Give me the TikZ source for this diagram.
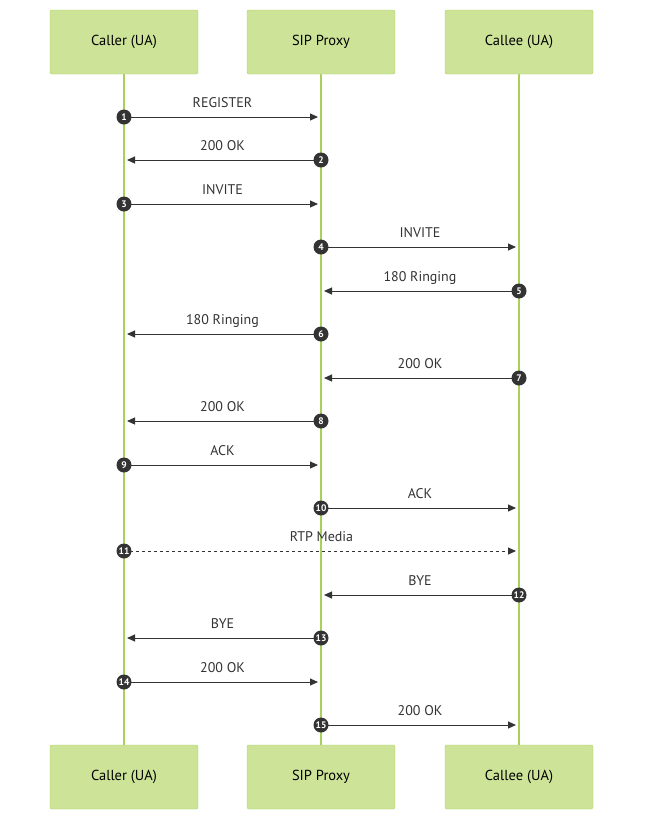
\documentclass[tikz,border=0pt]{standalone}
\usepackage{fontspec}
\setmainfont{PT Sans}
\usetikzlibrary{arrows.meta}
\definecolor{boxfill}{HTML}{CDE498}
\definecolor{boxline}{HTML}{A8D05A}
\definecolor{msg}{HTML}{333333}
\begin{document}
\begin{tikzpicture}[x=1pt,y=-1pt,
  actor/.style={draw=boxline,fill=boxfill,rounded corners=2pt,minimum width=148pt,minimum height=64pt,font=\fontsize{14.5}{16}\selectfont,text=black},
  life/.style={draw=boxline,line width=1.5pt},
  msgline/.style={draw=msg,line width=1pt,-{Triangle[length=8pt,width=7pt]}},
  lbl/.style={font=\fontsize{14}{16}\selectfont,text=msg,inner sep=1pt},
  num/.style={circle,fill=msg,text=white,inner sep=0pt,minimum size=15pt,font=\fontsize{9.5}{10}\bfseries\selectfont}]
\useasboundingbox (0,0) rectangle (650,831);
\draw[life] (124,74) -- (124,745);
\draw[life] (321,74) -- (321,745);
\draw[life] (519,74) -- (519,745);
\node[actor] (a1) at (124,42) {Caller (UA)};
\node[actor] (b1) at (321,42) {SIP Proxy};
\node[actor] (c1) at (519,42) {Callee (UA)};
\node[actor] (a2) at (124,777) {Caller (UA)};
\node[actor] (b2) at (321,777) {SIP Proxy};
\node[actor] (c2) at (519,777) {Callee (UA)};
\foreach \n/\y/\f/\t/\txt/\st in {
 1/117/124/321/REGISTER/solid,
 2/160/321/124/200 OK/solid,
 3/204/124/321/INVITE/solid,
 4/247/321/519/INVITE/solid,
 5/291/519/321/180 Ringing/solid,
 6/334/321/124/180 Ringing/solid,
 7/378/519/321/200 OK/solid,
 8/421/321/124/200 OK/solid,
 9/465/124/321/ACK/solid,
 10/508/321/519/ACK/solid,
 11/551/124/519/RTP Media/dashed,
 12/595/519/321/BYE/solid,
 13/638/321/124/BYE/solid,
 14/682/124/321/200 OK/solid,
 15/725/321/519/200 OK/solid}{
  \coordinate (s\n) at (\f,\y);
  \pgfmathsetmacro{\tt}{\t>\f ? \t-3 : \t+3}
  \coordinate (e\n) at (\tt,\y);
  \draw[msgline,\st] (s\n) -- (e\n);
  \node[lbl,anchor=base] (l\n) at ({(\f+\t)/2},{\y-10}) {\txt};
  \node[num] (n\n) at (s\n) {\n};
}
\end{tikzpicture}
\end{document}
